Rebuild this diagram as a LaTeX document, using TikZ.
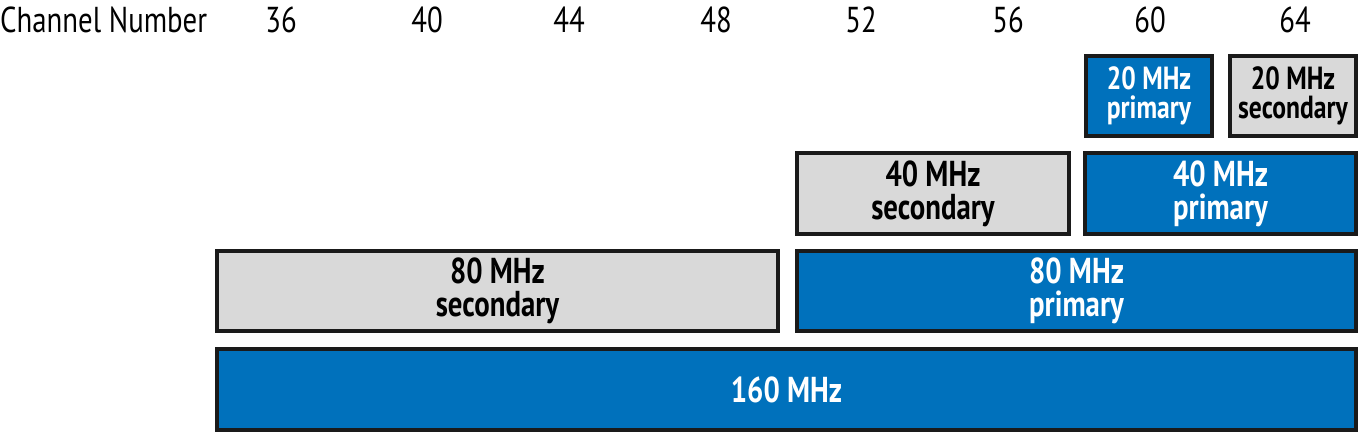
\documentclass[tikz,border=0pt]{standalone}
\usepackage{fontspec}
\setmainfont{PT Sans}[FakeStretch=0.8]
\definecolor{chblue}{RGB}{0,113,188}
\definecolor{chgrey}{RGB}{217,217,217}
\definecolor{chline}{RGB}{26,26,26}
\begin{document}
\begin{tikzpicture}[x=1pt,y=-1pt,
  chbox/.style={draw=chline, line width=4pt, align=center, inner sep=0pt,
    font=\fontsize{36}{33}\selectfont\bfseries},
  primbox/.style={chbox, fill=chblue, text=white},
  secbox/.style={chbox, fill=chgrey, text=black},
  smallbox/.style={font=\fontsize{32}{29}\selectfont\bfseries},
  hdr/.style={anchor=base, inner sep=0pt, font=\fontsize{36}{36}\selectfont}]
\useasboundingbox (0,0) rectangle (1360,433);
\node[hdr, anchor=base west] (hch) at (0,33) {Channel Number};
\node[hdr] (h36) at (281,33) {36};
\node[hdr] (h40) at (427,33) {40};
\node[hdr] (h44) at (569,33) {44};
\node[hdr] (h48) at (716,33) {48};
\node[hdr] (h52) at (861,33) {52};
\node[hdr] (h56) at (1008,33) {56};
\node[hdr] (h60) at (1150,33) {60};
\node[hdr] (h64) at (1295,33) {64};
\node[primbox, smallbox, minimum width=126, minimum height=80] (b20p) at (1149,96) {20 MHz\\primary};
\node[secbox, smallbox, minimum width=126, minimum height=80] (b20s) at (1293,96) {20 MHz\\secondary};
\node[secbox, minimum width=272, minimum height=81] (b40s) at (933,193.5) {40 MHz\\secondary};
\node[primbox, minimum width=271, minimum height=81] (b40p) at (1220.5,193.5) {40 MHz\\primary};
\node[secbox, minimum width=561, minimum height=80] (b80s) at (497.5,291) {80 MHz\\secondary};
\node[primbox, minimum width=559, minimum height=80] (b80p) at (1076.5,291) {80 MHz\\primary};
\node[primbox, minimum width=1139, minimum height=81] (b160) at (786.5,389.5) {160 MHz};
\end{tikzpicture}
\end{document}
